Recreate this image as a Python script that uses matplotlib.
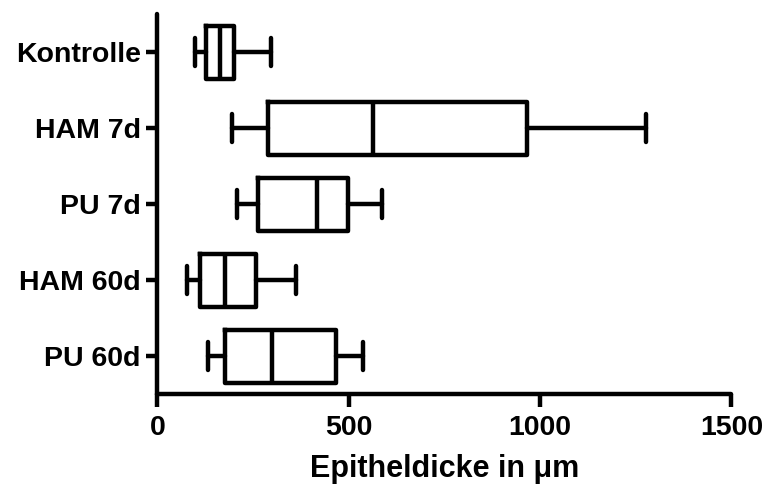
import matplotlib.pyplot as plt

groups = ['Kontrolle', 'HAM 7d', 'PU 7d', 'HAM 60d', 'PU 60d']
whislo = [98, 195, 208, 76, 133]
q1 = [126, 290, 263, 111, 176]
med = [163, 564, 416, 176, 300]
q3 = [201, 965, 497, 257, 466]
whishi = [296, 1276, 588, 361, 536]

plt.rcParams['font.family'] = ['Liberation Sans', 'DejaVu Sans']
plt.rcParams['font.weight'] = 'bold'

stats = []
for i in range(len(groups)):
    stats.append({'label': groups[i], 'whislo': whislo[i], 'q1': q1[i], 'med': med[i],
                  'q3': q3[i], 'whishi': whishi[i], 'fliers': []})

fig = plt.figure(figsize=(7.63, 4.90), dpi=100)
ax = fig.add_axes([0.2064, 0.1953, 0.7523, 0.7755])

lw = 3.2
ax.bxp(stats, positions=range(len(groups)), vert=False, widths=0.7, capwidths=0.37,
       showfliers=False, patch_artist=False,
       boxprops=dict(color='black', linewidth=lw, solid_joinstyle='round'),
       medianprops=dict(color='black', linewidth=lw, solid_capstyle='butt'),
       whiskerprops=dict(color='black', linewidth=lw, solid_capstyle='round'),
       capprops=dict(color='black', linewidth=lw, solid_capstyle='round'))

ax.set_xlim(0, 1500)
ax.set_ylim(4.5, -0.5)
ax.set_xticks([0, 500, 1000, 1500])
ax.set_yticks(range(len(groups)))
ax.set_yticklabels(groups)

for s in ['top', 'right']:
    ax.spines[s].set_visible(False)
for s in ['left', 'bottom']:
    ax.spines[s].set_linewidth(lw)
    ax.spines[s].set_capstyle('round')

ax.tick_params(axis='x', length=9, width=lw, labelsize=20.5, pad=6)
ax.tick_params(axis='y', length=8, width=lw, labelsize=20.5, pad=4)
ax.set_xlabel('Epitheldicke in \u03bcm', fontsize=22, fontweight='bold', labelpad=9)

fig.savefig('out.png', dpi=100)
